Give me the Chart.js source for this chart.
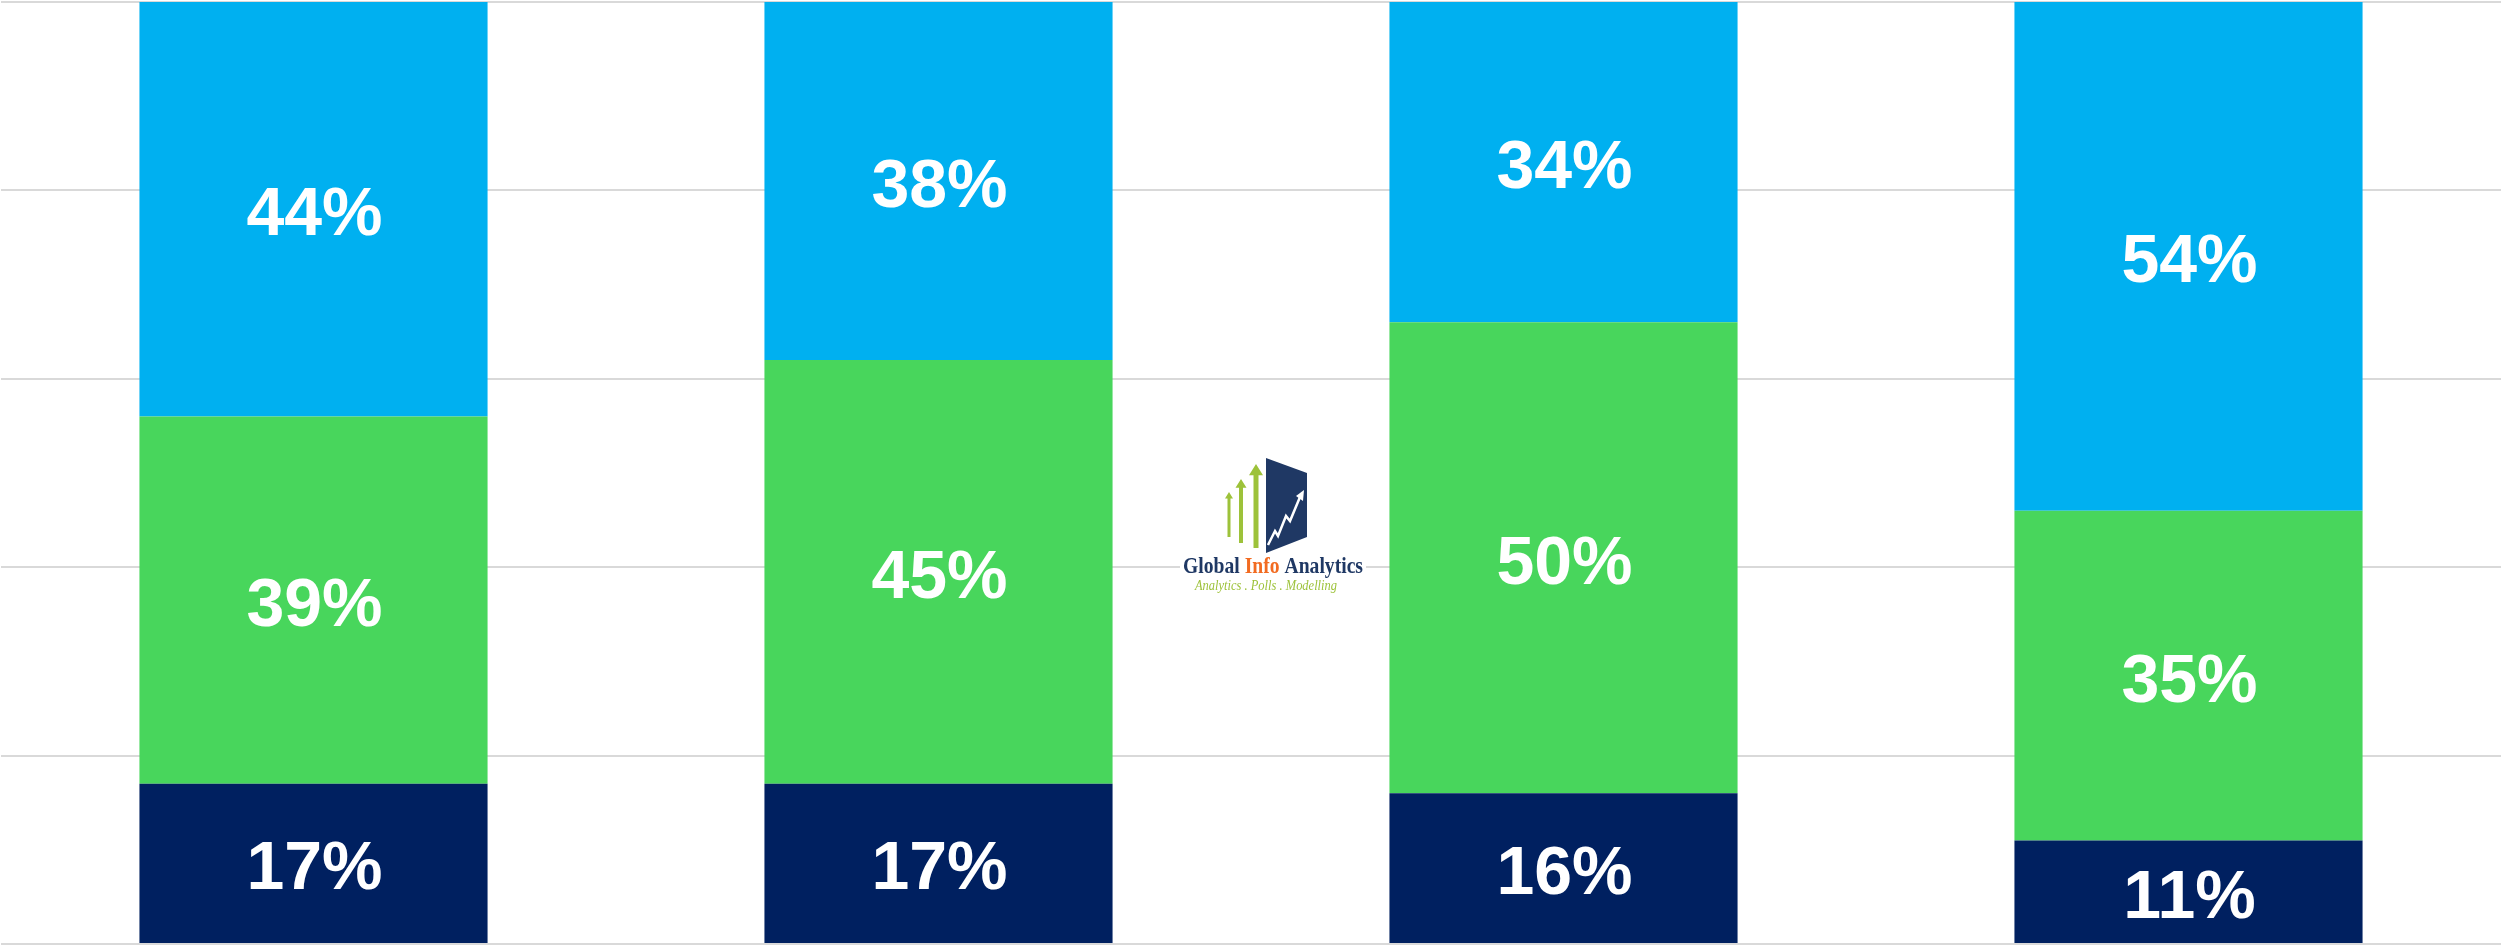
<!DOCTYPE html>
<html>
<head>
<meta charset="utf-8">
<script src="https://cdn.jsdelivr.net/npm/chart.js@4.4.1/dist/chart.umd.min.js"></script>
<style>
  html, body { margin: 0; padding: 0; background: #fff; }
  #wrap { width: 2501px; height: 946px; position: relative; }
</style>
</head>
<body>
<div id="wrap"><canvas id="chart"></canvas></div>
<script>
// categories have no visible labels in the picture
const categories = ["A", "B", "C", "D"];
const seriesNames = ["Bottom", "Middle", "Top"];
const bottomValues = [17, 17, 16, 11];
const middleValues = [39, 45, 50, 35];
const topValues = [44, 38, 34, 54];
const seriesColors = ["#002060", "#48D65C", "#00B0F0"];

// white percentage labels centred in each segment
const segmentLabels = {
  id: "segmentLabels",
  afterDatasetsDraw(chart) {
    const ctx = chart.ctx;
    ctx.save();
    ctx.fillStyle = "#ffffff";
    ctx.font = "bold 68px 'Liberation Sans', Arial, sans-serif";
    ctx.textAlign = "center";
    ctx.textBaseline = "alphabetic";
    chart.data.datasets.forEach((ds, i) => {
      const meta = chart.getDatasetMeta(i);
      meta.data.forEach((bar, j) => {
        const c = bar.getCenterPoint();
        ctx.fillText(ds.data[j] + "%", c.x + 1, c.y + 26);
      });
    });
    ctx.restore();
  }
};

// the small company logo in the middle of the chart
const logo = {
  id: "logo",
  afterDraw(chart) {
    const ctx = chart.ctx;
    ctx.save();
    ctx.fillStyle = "#ffffff";
    ctx.fillRect(1180, 556, 186, 42);

    // green arrows
    ctx.fillStyle = "#9DC23A";
    const arrows = [
      { x: 1229, top: 492, bottom: 537, shaft: 3, head: 8 },
      { x: 1241, top: 479, bottom: 543, shaft: 4, head: 11 },
      { x: 1256, top: 464, bottom: 548, shaft: 5, head: 14 }
    ];
    arrows.forEach(a => {
      const hh = a.head * 0.8;
      ctx.beginPath();
      ctx.moveTo(a.x, a.top);
      ctx.lineTo(a.x + a.head / 2, a.top + hh);
      ctx.lineTo(a.x + a.shaft / 2, a.top + hh);
      ctx.lineTo(a.x + a.shaft / 2, a.bottom);
      ctx.lineTo(a.x - a.shaft / 2, a.bottom);
      ctx.lineTo(a.x - a.shaft / 2, a.top + hh);
      ctx.lineTo(a.x - a.head / 2, a.top + hh);
      ctx.closePath();
      ctx.fill();
    });

    // navy panel
    ctx.fillStyle = "#1F3864";
    ctx.beginPath();
    ctx.moveTo(1266, 458);
    ctx.lineTo(1307, 473);
    ctx.lineTo(1307, 537);
    ctx.lineTo(1266, 553);
    ctx.closePath();
    ctx.fill();

    // white zigzag arrow
    ctx.strokeStyle = "#ffffff";
    ctx.lineWidth = 2.5;
    ctx.beginPath();
    ctx.moveTo(1268, 545);
    ctx.lineTo(1275, 531);
    ctx.lineTo(1278, 536);
    ctx.lineTo(1286, 516);
    ctx.lineTo(1290, 521);
    ctx.lineTo(1300, 497);
    ctx.stroke();
    ctx.fillStyle = "#ffffff";
    ctx.beginPath();
    ctx.moveTo(1304, 490);
    ctx.lineTo(1303, 501);
    ctx.lineTo(1296, 496);
    ctx.closePath();
    ctx.fill();

    // name
    const parts = [["Global ", "#1F3864"], ["Info", "#F26B21"], [" Analytics", "#1F3864"]];
    ctx.font = "bold 21px 'Liberation Serif', 'DejaVu Serif', serif";
    const full = parts.map(p => p[0]).join("");
    const w = ctx.measureText(full).width;
    ctx.save();
    ctx.translate(1183, 573);
    ctx.scale(180 / w, 1.1);
    let x = 0;
    parts.forEach(p => {
      ctx.fillStyle = p[1];
      ctx.fillText(p[0], x, 0);
      x += ctx.measureText(p[0]).width;
    });
    ctx.restore();

    // tagline
    ctx.font = "italic 14px 'Liberation Serif', 'DejaVu Serif', serif";
    const tag = "Analytics . Polls . Modelling";
    const tw = ctx.measureText(tag).width;
    ctx.save();
    ctx.translate(1195, 590);
    ctx.scale(142 / tw, 1);
    ctx.fillStyle = "#9DC23A";
    ctx.fillText(tag, 0, 0);
    ctx.restore();
    ctx.restore();
  }
};

new Chart(document.getElementById("chart"), {
  type: "bar",
  data: {
    labels: categories,
    datasets: [
      { label: seriesNames[0], data: bottomValues, backgroundColor: seriesColors[0] },
      { label: seriesNames[1], data: middleValues, backgroundColor: seriesColors[1] },
      { label: seriesNames[2], data: topValues, backgroundColor: seriesColors[2] }
    ]
  },
  options: {
    responsive: true,
    maintainAspectRatio: false,
    animation: false,
    events: [],
    layout: { padding: { top: 2, bottom: 2, left: 1, right: 0 } },
    datasets: {
      bar: { categoryPercentage: 1, barPercentage: 0.557, borderWidth: 0 }
    },
    plugins: {
      legend: { display: false },
      tooltip: { enabled: false }
    },
    scales: {
      x: {
        stacked: true,
        display: false
      },
      y: {
        stacked: true,
        min: 0,
        max: 100,
        ticks: { display: false, stepSize: 20 },
        border: { display: false },
        grid: { color: "#D9D9D9", lineWidth: 2, drawTicks: false }
      }
    }
  },
  plugins: [segmentLabels, logo]
});
</script>
</body>
</html>
